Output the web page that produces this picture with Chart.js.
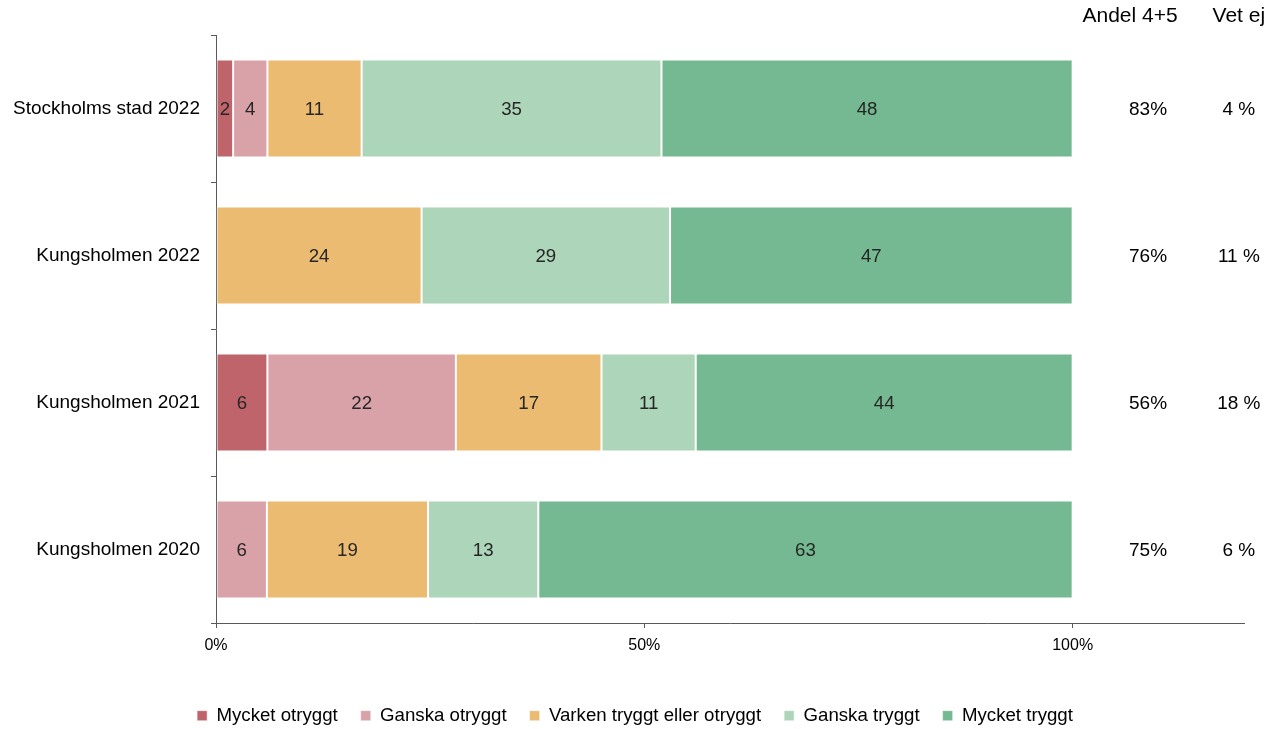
<!DOCTYPE html>
<html>
<head>
<meta charset="utf-8">
<script src="https://cdn.jsdelivr.net/npm/chart.js@4/dist/chart.umd.min.js"></script>
<style>
  html, body { margin: 0; padding: 0; background: #fff; }
  #wrap { width: 1274px; height: 729px; }
</style>
</head>
<body>
<div id="wrap"><canvas id="myChart" width="1274" height="729"></canvas></div>
<script>
// Categories and series (percent per answer)
const categories = ['Stockholms stad 2022', 'Kungsholmen 2022', 'Kungsholmen 2021', 'Kungsholmen 2020'];
const seriesNames = ['Mycket otryggt', 'Ganska otryggt', 'Varken tryggt eller otryggt', 'Ganska tryggt', 'Mycket tryggt'];
const mycketOtryggt = [2, 0, 6, 0];
const ganskaOtryggt = [4, 0, 22, 6];
const varken = [11, 24, 17, 19];
const ganskaTryggt = [35, 29, 11, 13];
const mycketTryggt = [48, 47, 44, 63];
const andel45 = ['83%', '76%', '56%', '75%'];
const vetEj = ['4 %', '11 %', '18 %', '6 %'];
const xTicks = [0, 50, 100];
const colors = ['#C0646C', '#D9A1A8', '#ECBB72', '#ADD5BA', '#74B991'];

const allSeries = [mycketOtryggt, ganskaOtryggt, varken, ganskaTryggt, mycketTryggt];

// bars are drawn as share of row total (100% stacked)
const rowTotals = categories.map((c, i) => allSeries.reduce((s, arr) => s + arr[i], 0));

const FONT = 'Liberation Sans, Arial, Helvetica, sans-serif';
Chart.defaults.font.family = FONT;
Chart.defaults.color = '#000';

const datasets = allSeries.map((vals, k) => ({
  label: seriesNames[k],
  data: vals.map((v, i) => v / rowTotals[i] * 100),
  raw: vals,
  backgroundColor: colors[k],
  borderColor: 'rgba(255,255,255,0.45)',
  borderWidth: 1,
  borderSkipped: false,
  barPercentage: 0.667,
  categoryPercentage: 1
}));

// Value labels inside the bars + side columns
const labelsPlugin = {
  id: 'labelsPlugin',
  afterLayout(chart) {
    // move legend a bit, like the original
    const lg = chart.legend;
    lg.top += 6;
    lg.bottom += 6;
    lg.left += 13;
    lg.right += 13;
  },
  afterDatasetsDraw(chart) {
    const ctx = chart.ctx;
    const xs = chart.scales.x;
    const ys = chart.scales.y;
    ctx.save();
    ctx.font = '18.67px ' + FONT;
    ctx.textAlign = 'center';
    ctx.textBaseline = 'middle';
    ctx.fillStyle = '#262626';
    chart.data.datasets.forEach((ds, k) => {
      const meta = chart.getDatasetMeta(k);
      meta.data.forEach((bar, i) => {
        const v = ds.raw[i];
        if (!v) return;
        const cx = (bar.x + bar.base) / 2;
        ctx.fillText(String(v), cx, bar.y + 1);
      });
    });
    ctx.fillStyle = '#000';
    ctx.font = '19px ' + FONT;
    categories.forEach((c, i) => {
      const y = ys.getPixelForValue(i) + 1;
      ctx.fillText(andel45[i], xs.getPixelForValue(108.8), y);
      ctx.fillText(vetEj[i], xs.getPixelForValue(119.4), y);
    });
    ctx.font = '21px ' + FONT;
    ctx.fillText('Andel 4+5', xs.getPixelForValue(106.7), 16);
    ctx.fillText('Vet ej', xs.getPixelForValue(119.4), 16);
    ctx.restore();
  }
};

const canvas = document.getElementById('myChart');
const myChart = new Chart(canvas.getContext('2d'), {
  type: 'bar',
  data: { labels: categories, datasets: datasets },
  options: {
    indexAxis: 'y',
    responsive: false,
    animation: false,
    layout: { padding: { top: 35, right: 30, left: 0, bottom: 0 } },
    plugins: {
      tooltip: { enabled: false },
      legend: {
        position: 'bottom',
        labels: {
          boxWidth: 10,
          boxHeight: 10,
          padding: 23,
          color: '#000',
          font: { size: 18.67 }
        }
      }
    },
    scales: {
      x: {
        stacked: true,
        min: 0,
        max: 120,
        afterBuildTicks(scale) {
          scale.ticks = xTicks.map(v => ({ value: v }));
        },
        afterFit(scale) { scale.height = 54.3; },
        border: { color: '#595959', width: 1 },
        grid: { drawOnChartArea: false, tickLength: 5, color: '#595959' },
        ticks: {
          padding: 8,
          color: '#000',
          font: { size: 16 },
          callback: v => v + '%'
        }
      },
      y: {
        stacked: true,
        afterFit(scale) { scale.width = 216; },
        border: { color: '#595959', width: 1 },
        grid: { offset: true, drawOnChartArea: false, tickLength: 5, color: '#595959' },
        ticks: {
          padding: 11,
          color: '#000',
          font: { size: 19 }
        }
      }
    }
  },
  plugins: [labelsPlugin]
});
</script>
</body>
</html>
